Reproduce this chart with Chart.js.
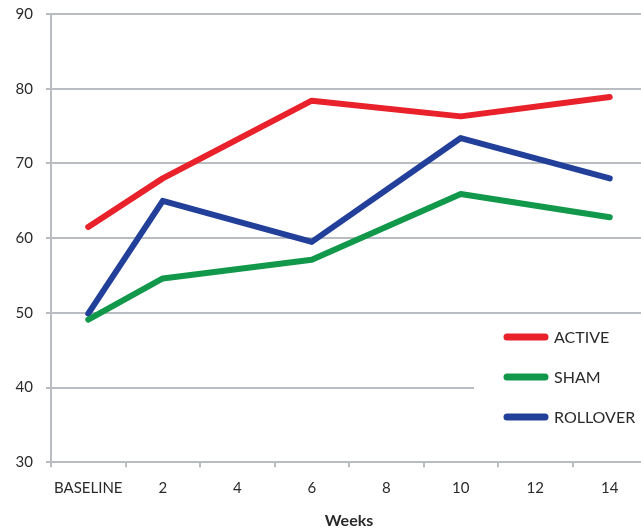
<!DOCTYPE html>
<html>
<head>
<meta charset="utf-8">
<script src="https://cdn.jsdelivr.net/npm/chart.js@4/dist/chart.umd.min.js"></script>
<style>
  html, body { margin: 0; padding: 0; background: #fff; overflow: hidden; }
  #wrap { position: relative; width: 647px; height: 538px; margin-top: -8px; }
</style>
</head>
<body>
<div id="wrap"><canvas id="c"></canvas></div>
<script>
// Weeks of treatment (measurements only at baseline, 2, 6, 10 and 14)
const weeks = ['BASELINE', '2', '4', '6', '8', '10', '12', '14'];
const active = [61.5, 68.0, null, 78.4, null, 76.3, null, 78.9];
const sham = [49.1, 54.6, null, 57.1, null, 65.9, null, 62.8];
const rollover = [49.9, 65.0, null, 59.5, null, 73.4, null, 68.0];
const yTicks = [30, 40, 50, 60, 70, 80, 90];

const FONT = 'Lato, "Open Sans", sans-serif';
const GRID = '#b9bcc1';
const TEXT = '#2a2a2a';

// Legend drawn inside the plot, on a white panel at the lower right
const insideLegend = {
  id: 'insideLegend',
  beforeDatasetsDraw(chart) {
    const ctx = chart.ctx;
    const off = 8; // canvas sits 8px above the page top
    ctx.save();
    ctx.fillStyle = '#fff';
    ctx.fillRect(474, 322 + off, 200, 128);
    const rows = [337, 377, 417];
    chart.data.datasets.forEach((ds, i) => {
      const y = rows[i] + off;
      ctx.strokeStyle = ds.borderColor;
      ctx.lineWidth = 7;
      ctx.lineCap = 'round';
      ctx.beginPath();
      ctx.moveTo(507, y);
      ctx.lineTo(545, y);
      ctx.stroke();
      ctx.fillStyle = TEXT;
      ctx.font = '16px ' + FONT;
      ctx.textBaseline = 'middle';
      ctx.fillText(ds.label, 554, y + 1);
    });
    ctx.restore();
  }
};

const lineStyle = {
  borderWidth: 6,
  pointRadius: 0,
  pointHoverRadius: 0,
  spanGaps: true,
  tension: 0,
  borderJoinStyle: 'round',
  borderCapStyle: 'round',
  fill: false
};

new Chart(document.getElementById('c'), {
  type: 'line',
  data: {
    labels: weeks,
    datasets: [
      Object.assign({ label: 'ACTIVE', data: active, borderColor: '#e8212b' }, lineStyle),
      Object.assign({ label: 'SHAM', data: sham, borderColor: '#11984a' }, lineStyle),
      Object.assign({ label: 'ROLLOVER', data: rollover, borderColor: '#22409a' }, lineStyle)
    ]
  },
  options: {
    responsive: true,
    maintainAspectRatio: false,
    animation: false,
    layout: { padding: { top: 5, left: 0, right: 0, bottom: 0 } },
    plugins: {
      legend: { display: false },
      tooltip: { enabled: false }
    },
    scales: {
      x: {
        offset: true,
        grid: {
          offset: true,
          drawOnChartArea: false,
          drawTicks: true,
          tickLength: 5,
          color: GRID,
          lineWidth: 2
        },
        border: { color: GRID, width: 2 },
        ticks: {
          color: TEXT,
          font: { family: FONT, size: 15 },
          padding: 12,
          maxRotation: 0,
          autoSkip: false
        },
        title: {
          display: true,
          text: 'Weeks',
          color: TEXT,
          font: { family: FONT, size: 16, weight: 'bold' },
          padding: { top: 13, bottom: 0 }
        },
        afterFit(scale) { scale.height = 67.7; }
      },
      y: {
        min: 30,
        max: 90,
        afterBuildTicks(scale) { scale.ticks = yTicks.map(v => ({ value: v })); },
        grid: {
          color: GRID,
          lineWidth: 2,
          drawTicks: true,
          tickLength: 5
        },
        border: { color: GRID, width: 2 },
        ticks: {
          color: TEXT,
          font: { family: FONT, size: 15 },
          padding: 13
        },
        afterFit(scale) { scale.width = 51; }
      }
    }
  },
  plugins: [insideLegend]
});
</script>
</body>
</html>
